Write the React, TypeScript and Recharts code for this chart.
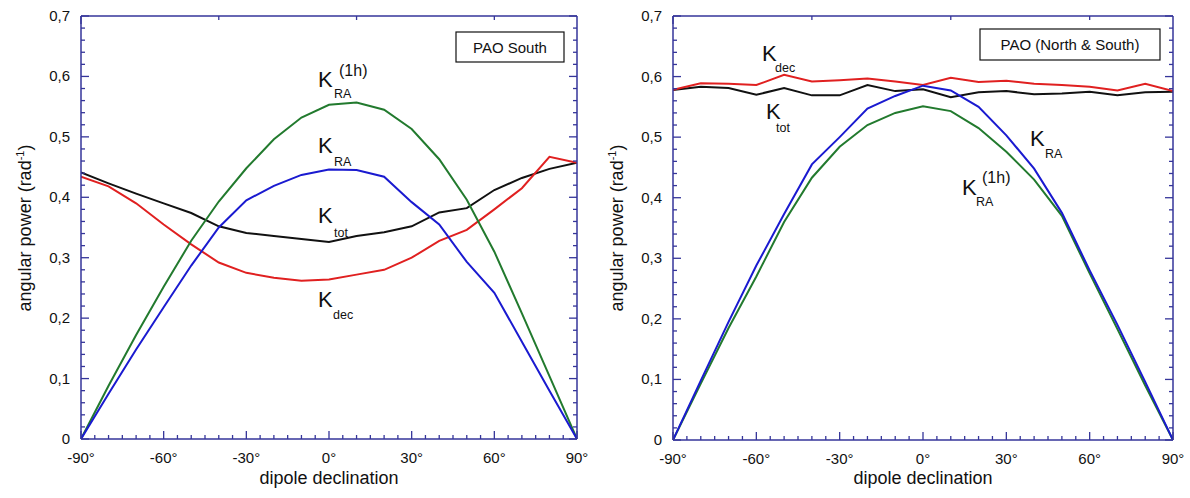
import React from 'react';
import { LineChart, Line, XAxis, YAxis } from 'recharts';

const decl = [-90, -80, -70, -60, -50, -40, -30, -20, -10, 0, 10, 20, 30, 40, 50, 60, 70, 80, 90];

// PAO South
const southRA1h = [0, 0.088, 0.172, 0.252, 0.328, 0.393, 0.448, 0.496, 0.532, 0.553, 0.557, 0.545, 0.513, 0.463, 0.396, 0.31, 0.208, 0.104, 0];
const southRA = [0, 0.075, 0.148, 0.218, 0.287, 0.35, 0.395, 0.419, 0.437, 0.446, 0.445, 0.434, 0.392, 0.355, 0.293, 0.242, 0.161, 0.08, 0];
const southTot = [0.441, 0.423, 0.406, 0.39, 0.374, 0.352, 0.341, 0.336, 0.331, 0.326, 0.336, 0.342, 0.352, 0.375, 0.382, 0.412, 0.432, 0.447, 0.457];
const southDec = [0.434, 0.418, 0.39, 0.355, 0.322, 0.292, 0.275, 0.267, 0.262, 0.264, 0.272, 0.28, 0.3, 0.328, 0.346, 0.38, 0.415, 0.467, 0.457];

// PAO (North & South)
const nsRA1h = [0, 0.093, 0.185, 0.27, 0.36, 0.433, 0.484, 0.52, 0.54, 0.551, 0.543, 0.515, 0.476, 0.43, 0.37, 0.275, 0.183, 0.09, 0];
const nsRA = [0, 0.098, 0.195, 0.288, 0.373, 0.455, 0.5, 0.547, 0.568, 0.585, 0.577, 0.55, 0.503, 0.448, 0.375, 0.28, 0.19, 0.096, 0];
const nsTot = [0.578, 0.583, 0.581, 0.57, 0.581, 0.569, 0.569, 0.586, 0.576, 0.579, 0.566, 0.574, 0.576, 0.571, 0.572, 0.575, 0.569, 0.574, 0.575];
const nsDec = [0.578, 0.589, 0.588, 0.586, 0.603, 0.592, 0.594, 0.597, 0.592, 0.586, 0.598, 0.591, 0.593, 0.588, 0.586, 0.583, 0.577, 0.588, 0.576];

// tick positions (every minor step; multiples of 30° / 0.1 are major & labelled)
const xTicks = [-90, -85, -80, -75, -70, -65, -60, -55, -50, -45, -40, -35, -30, -25, -20, -15, -10, -5, 0, 5, 10, 15, 20, 25, 30, 35, 40, 45, 50, 55, 60, 65, 70, 75, 80, 85, 90];
const yTicks = [0, 0.02, 0.04, 0.06, 0.08, 0.1, 0.12, 0.14, 0.16, 0.18, 0.2, 0.22, 0.24, 0.26, 0.28, 0.3, 0.32, 0.34, 0.36, 0.38, 0.4, 0.42, 0.44, 0.46, 0.48, 0.5, 0.52, 0.54, 0.56, 0.58, 0.6, 0.62, 0.64, 0.66, 0.68, 0.7];

const AXIS = '#35359a';
const FONT = 'Arial, "Liberation Sans", Helvetica, sans-serif';
const C_GREEN = '#227a2e';
const C_BLUE = '#1a1ad0';
const C_RED = '#e02020';
const C_BLACK = '#111111';

const fmtY = (v: number) => (v === 0 ? '0' : v.toFixed(1).replace('.', ','));
const fmtX = (v: number) => `${v}°`;
const isMajorX = (v: number) => Math.abs(v % 30) < 1e-9;
const isMajorY = (v: number) => Math.abs(v * 10 - Math.round(v * 10)) < 1e-6;

function makeTick(side: 'bottom' | 'top' | 'left' | 'right', label: boolean) {
  return (props: any) => {
    const { x, y, payload } = props;
    const v = payload.value;
    const horiz = side === 'bottom' || side === 'top';
    const major = horiz ? isMajorX(v) : isMajorY(v);
    const len = major ? 8 : 4;
    let x2 = x, y2 = y;
    if (side === 'bottom') y2 = y - len;
    if (side === 'top') y2 = y + len;
    if (side === 'left') x2 = x + len;
    if (side === 'right') x2 = x - len;
    return (
      <g>
        <line x1={x} y1={y} x2={x2} y2={y2} stroke={AXIS} strokeWidth={1.3} />
        {label && major && side === 'bottom' && (
          <text x={x} y={y + 24} textAnchor="middle" fontSize={15} fontFamily={FONT} fill="#111">
            {fmtX(v)}
          </text>
        )}
        {label && major && side === 'left' && (
          <text x={x - 11} y={y + 5} textAnchor="end" fontSize={15} fontFamily={FONT} fill="#111">
            {fmtY(v)}
          </text>
        )}
      </g>
    );
  };
}

function buildData(a: number[], b: number[], c: number[], d: number[]) {
  return decl.map((v, i) => ({ d: v, ra1h: a[i], ra: b[i], tot: c[i], dec: d[i] }));
}

function Panel({ data, width, height, margin }: { data: any[]; width: number; height: number; margin: any }) {
  const axisLine = { stroke: AXIS, strokeWidth: 1.5 };
  const common = { tickSize: 0, tickMargin: 0, tickLine: false, interval: 0 as const, allowDataOverflow: true, axisLine };
  return (
    <LineChart width={width} height={height} data={data} margin={margin}>
      <XAxis xAxisId="x" dataKey="d" type="number" domain={[-90, 90]} ticks={xTicks} orientation="bottom" height={1}
        tick={makeTick('bottom', true)} {...common} />
      <XAxis xAxisId="xt" type="number" domain={[-90, 90]} ticks={xTicks} orientation="top" height={1}
        tick={makeTick('top', false)} {...common} />
      <YAxis yAxisId="y" type="number" domain={[0, 0.7]} ticks={yTicks} orientation="left" width={1}
        tick={makeTick('left', true)} {...common} />
      <YAxis yAxisId="yr" type="number" domain={[0, 0.7]} ticks={yTicks} orientation="right" width={1}
        tick={makeTick('right', false)} {...common} />
      <Line xAxisId="x" yAxisId="y" dataKey="tot" type="linear" stroke={C_BLACK} strokeWidth={2} dot={false} isAnimationActive={false} />
      <Line xAxisId="x" yAxisId="y" dataKey="dec" type="linear" stroke={C_RED} strokeWidth={2} dot={false} isAnimationActive={false} />
      <Line xAxisId="x" yAxisId="y" dataKey="ra1h" type="linear" stroke={C_GREEN} strokeWidth={2} dot={false} isAnimationActive={false} />
      <Line xAxisId="x" yAxisId="y" dataKey="ra" type="linear" stroke={C_BLUE} strokeWidth={2} dot={false} isAnimationActive={false} />
    </LineChart>
  );
}

function K({ x, y, sub, sup, subDx = 16, subDy = 12, supDx = 21, supDy = -12 }: any) {
  return (
    <g fontFamily={FONT} fill="#111">
      <text x={x} y={y} fontSize={22}>K</text>
      <text x={x + subDx} y={y + subDy} fontSize={12.5}>{sub}</text>
      {sup && <text x={x + supDx} y={y + supDy} fontSize={16}>{sup}</text>}
    </g>
  );
}

function YLabel({ x, y }: { x: number; y: number }) {
  return (
    <text x={x} y={y} transform={`rotate(-90 ${x} ${y})`} textAnchor="middle" fontSize={18} fontFamily={FONT} fill="#111">
      angular power (rad<tspan fontSize={11} dy={-7}>-1</tspan><tspan dy={7}>)</tspan>
    </text>
  );
}

export default function App() {
  const southData = buildData(southRA1h, southRA, southTot, southDec);
  const nsData = buildData(nsRA1h, nsRA, nsTot, nsDec);
  return (
    <div style={{ position: 'fixed', left: 0, top: 0, width: 1190, height: 498, background: '#fff', overflow: 'hidden' }}>
      <div style={{ position: 'absolute', left: 0, top: 0 }}>
        <Panel data={southData} width={590} height={498} margin={{ top: 15, left: 80, right: 12, bottom: 58 }} />
      </div>
      <div style={{ position: 'absolute', left: 590, top: 0 }}>
        <Panel data={nsData} width={600} height={498} margin={{ top: 15, left: 82, right: 16, bottom: 57 }} />
      </div>
      <svg width={1190} height={498} style={{ position: 'absolute', left: 0, top: 0, pointerEvents: 'none' }}>
        <YLabel x={31} y={228} />
        <YLabel x={623} y={228} />
        <text x={329} y={484} textAnchor="middle" fontSize={18} fontFamily={FONT} fill="#111">dipole declination</text>
        <text x={923} y={484} textAnchor="middle" fontSize={18} fontFamily={FONT} fill="#111">dipole declination</text>

        <rect x={456} y={32} width={108} height={30} fill="#fff" stroke="#111" strokeWidth={1.2} />
        <text x={510} y={53} textAnchor="middle" fontSize={15} fontFamily={FONT} fill="#111">PAO South</text>
        <rect x={980} y={29} width={180} height={31} fill="#fff" stroke="#111" strokeWidth={1.2} />
        <text x={1070} y={50} textAnchor="middle" fontSize={15} fontFamily={FONT} fill="#111">PAO (North &amp; South)</text>

        <K x={318} y={87} sub="RA" sup="(1h)" subDx={16} subDy={11} supDx={21} supDy={-11} />
        <K x={318} y={153} sub="RA" subDx={16} subDy={13} />
        <K x={318} y={223} sub="tot" subDx={16} subDy={14} />
        <K x={318} y={307} sub="dec" subDx={15} subDy={12} />

        <K x={762} y={61} sub="dec" subDx={13} subDy={11} />
        <K x={766} y={119} sub="tot" subDx={10} subDy={13} />
        <K x={1030} y={146} sub="RA" subDx={15} subDy={12} />
        <K x={962} y={195} sub="RA" sup="(1h)" subDx={14} subDy={11} supDx={20} supDy={-12} />
      </svg>
    </div>
  );
}
